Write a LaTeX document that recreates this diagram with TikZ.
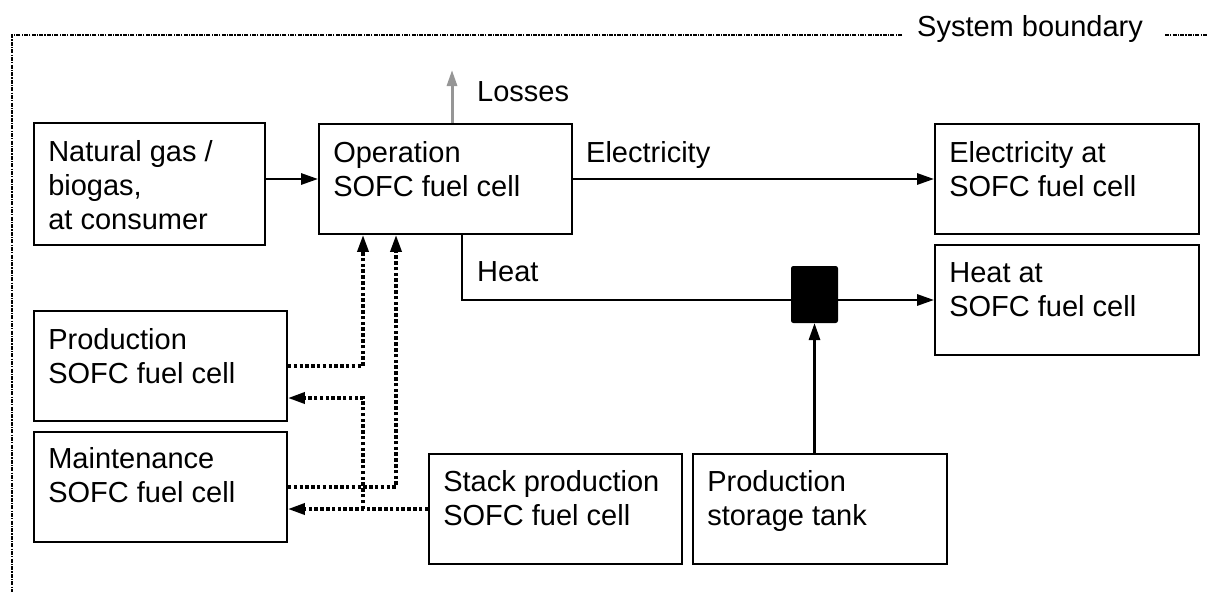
\documentclass[tikz,border=0pt]{standalone}
\usepackage{fontspec}
\setmainfont{Liberation Sans}
\usetikzlibrary{arrows.meta}
\definecolor{lossgray}{RGB}{150,150,150}
\begin{document}
\begin{tikzpicture}[x=1pt,y=-1pt,
  box/.style={draw, line width=1.8pt, inner sep=0pt},
  txt/.style={anchor=north west, inner sep=0pt, align=left, font=\fontsize{29}{34}\selectfont},
  lbl/.style={anchor=base west, inner sep=0pt, font=\fontsize{29}{34}\selectfont},
  arr/.style={line width=2.8pt, -{Triangle[length=17pt,width=11pt]}},
  plain/.style={line width=2.8pt},
  dotarr/.style={line width=3.5pt, dash pattern=on 3.5pt off 2.3pt, -{Triangle[length=17pt,width=11pt]}},
  lossarr/.style={line width=3pt, draw=lossgray, -{Triangle[length=16pt,width=10pt,fill=lossgray]}},
  bnd/.style={line width=1.8pt, dash pattern=on 4pt off 1.2pt on 1.2pt off 1.2pt}]
\useasboundingbox (0,0) rectangle (1209,592);

% system boundary
\draw[bnd] (902,35) -- (12,35) -- (12,592);
\draw[bnd] (1165,35) -- (1207,35);
\node[lbl] (sysb) at (917,36) {System boundary};

% boxes
\node[box, minimum width=231pt, minimum height=122pt] (gas) at (149.5,184) {};
\node[box, minimum width=253pt, minimum height=110pt] (op) at (445.5,179) {};
\node[box, minimum width=264pt, minimum height=110pt] (elec) at (1067,179) {};
\node[box, minimum width=264pt, minimum height=110pt] (heatbox) at (1067,300) {};
\node[box, minimum width=253pt, minimum height=110pt] (prod) at (160.5,366) {};
\node[box, minimum width=253pt, minimum height=110pt] (maint) at (160.5,487) {};
\node[box, minimum width=253pt, minimum height=110pt] (stack) at (555.5,509) {};
\node[box, minimum width=254pt, minimum height=110pt] (storage) at (820,509) {};
\node[draw, fill=black, line width=1pt, rounded corners=2pt, inner sep=0pt,
      minimum width=46pt, minimum height=56pt] (junc) at (814.5,294.5) {};

% box texts
\node[txt] (gasT) at ([shift={(15,18)}]gas.north west) {Natural gas /\\biogas,\\at consumer};
\node[txt] (opT) at ([shift={(15,18)}]op.north west) {Operation\\SOFC fuel cell};
\node[txt] (elecT) at ([shift={(15,18)}]elec.north west) {Electricity at\\SOFC fuel cell};
\node[txt] (heatT) at ([shift={(15,18)}]heatbox.north west) {Heat at\\SOFC fuel cell};
\node[txt] (prodT) at ([shift={(15,18)}]prod.north west) {Production\\SOFC fuel cell};
\node[txt] (maintT) at ([shift={(15,16)}]maint.north west) {Maintenance\\SOFC fuel cell};
\node[txt] (stackT) at ([shift={(15,17)}]stack.north west) {Stack production\\SOFC fuel cell};
\node[txt] (storT) at ([shift={(15,17)}]storage.north west) {Production\\storage tank};

% helper coordinates
\coordinate (xa) at (363,0);
\coordinate (xb) at (396,0);
\coordinate (xh) at (462,0);
\coordinate (xl) at (452,0);
\coordinate (yp) at (0,398);
\coordinate (lossend) at (452,70);

% solid flows
\draw[arr] (gas.east |- op.west) -- (op.west);
\draw[arr] (op.east) -- (elec.west);
\draw[plain] (xh |- op.south) |- (junc.west |- heatbox.west);
\draw[arr] (junc.east |- heatbox.west) -- (heatbox.west);
\draw[arr] (junc.south |- storage.north) -- (junc.south);
\draw[lossarr] (xl |- op.north) -- (lossend);

% labels
\node[lbl] (lossL) at (477,101) {Losses};
\node[lbl] (elecL) at (586,162) {Electricity};
\node[lbl] (heatL) at (477,281) {Heat};

% dotted flows
\draw[dotarr] (prod.east) -| (xa |- op.south);
\draw[dotarr] (maint.east) -| (xb |- op.south);
\draw[dotarr] (stack.west) -- (maint.east |- stack.west);
\draw[dotarr] (xa |- stack.west) |- (prod.east |- yp);
\end{tikzpicture}
\end{document}
